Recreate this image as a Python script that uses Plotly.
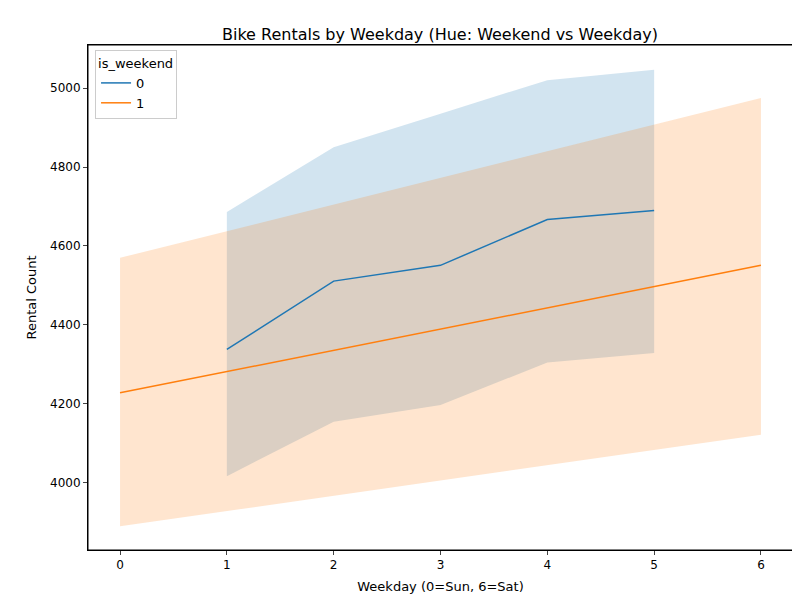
import plotly.graph_objects as go

# weekday (0=Sun) for workdays and weekend days
x_wd = [1, 2, 3, 4, 5]
mean_wd = [4338, 4511, 4551, 4667, 4690]
hi_wd = [4686, 4850, 4935, 5020, 5046]
lo_wd = [4017, 4155, 4197, 4305, 4329]

x_we = [0, 6]
mean_we = [4228, 4551]
hi_we = [4570, 4975]
lo_we = [3890, 4122]

blue = "#1f77b4"
orange = "#ff7f0e"

fig = go.Figure()


def band(x, lo, hi, fill):
    fig.add_trace(go.Scatter(x=x, y=hi, mode="lines", line=dict(width=0),
                             showlegend=False, hoverinfo="skip"))
    fig.add_trace(go.Scatter(x=x, y=lo, mode="lines", line=dict(width=0),
                             fill="tonexty", fillcolor=fill,
                             showlegend=False, hoverinfo="skip"))


band(x_wd, lo_wd, hi_wd, "rgba(31,119,180,0.2)")
band(x_we, lo_we, hi_we, "rgba(255,127,14,0.2)")
fig.add_trace(go.Scatter(x=x_wd, y=mean_wd, mode="lines", name="0",
                         line=dict(color=blue, width=1.5)))
fig.add_trace(go.Scatter(x=x_we, y=mean_we, mode="lines", name="1",
                         line=dict(color=orange, width=1.5)))

axis = dict(showline=True, linecolor="black", linewidth=1, mirror=True,
            ticks="outside", ticklen=4, showgrid=False, zeroline=False,
            automargin=False, tickfont=dict(size=12, color="black"))
fig.update_layout(
    width=800, height=600,
    paper_bgcolor="white", plot_bgcolor="white",
    font=dict(family="DejaVu Sans", size=12, color="black"),
    margin=dict(l=80, r=15, t=37, b=58),
    title=dict(text="Bike Rentals by Weekday (Hue: Weekend vs Weekday)",
               x=0.54, xanchor="center", y=0.965, font=dict(size=16)),
    xaxis=dict(axis, range=[-0.3, 6.3], tickvals=[0, 1, 2, 3, 4, 5, 6],
               title=dict(text="Weekday (0=Sun, 6=Sat)", font=dict(size=13), standoff=10)),
    yaxis=dict(axis, range=[3830, 5109], tickvals=[4000, 4200, 4400, 4600, 4800, 5000],
               title=dict(text="Rental Count", font=dict(size=13), standoff=10)),
    legend=dict(title=dict(text="is_weekend", font=dict(size=13)), x=0.01, y=0.99,
                xanchor="left", yanchor="top", bordercolor="#cccccc",
                borderwidth=1, bgcolor="white", traceorder="normal",
                font=dict(size=13)),
    shapes=[dict(type="rect", xref="paper", yref="paper", x0=0, y0=0, x1=1, y1=1,
                 line=dict(color="black", width=1), layer="above")],
)
fig.write_html("out.html")
